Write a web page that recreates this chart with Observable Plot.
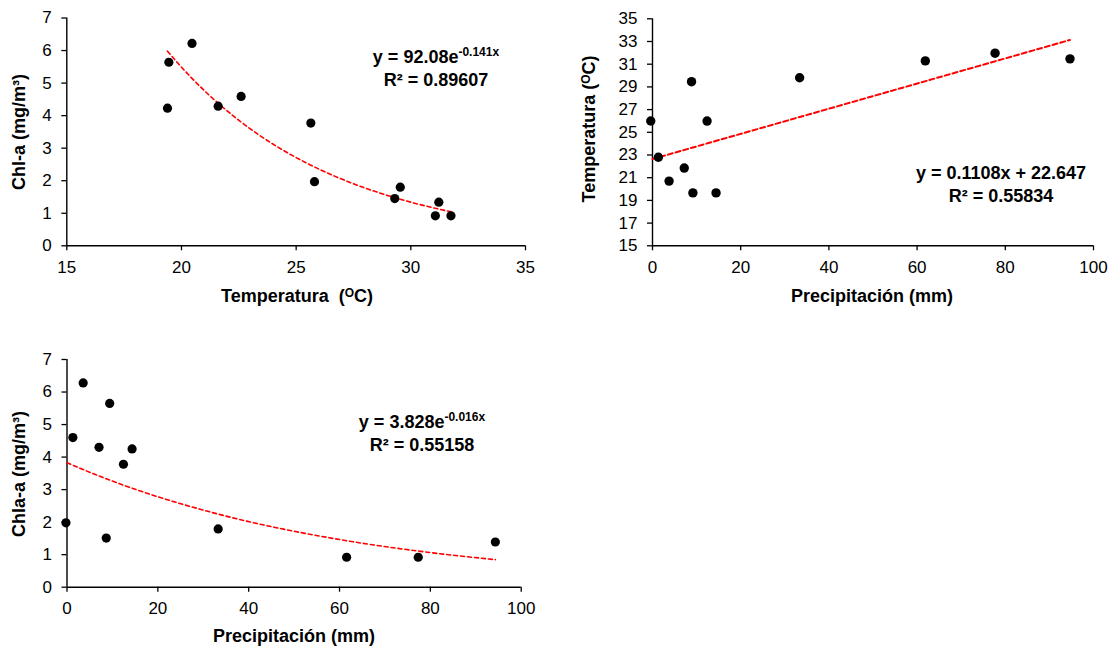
<!DOCTYPE html>
<html>
<head>
<meta charset="utf-8">
<script src="https://cdn.jsdelivr.net/npm/d3@7"></script>
<script src="https://cdn.jsdelivr.net/npm/@observablehq/plot@0.6"></script>
<style>
  html, body { margin:0; padding:0; background:#fff; overflow:hidden; }
  #root { position:relative; width:1114px; height:649px; font-family:"Liberation Sans", Arial, sans-serif; color:#000; }
  .panel { position:absolute; }
  .title { position:absolute; font-weight:bold; font-size:18px; white-space:nowrap; transform:translate(-50%,-50%); }
  .ytitle { transform:translate(-50%,-50%) rotate(-90deg); }
  .eq { position:absolute; font-weight:bold; font-size:18px; line-height:23px; text-align:center; white-space:nowrap; transform:translateX(-50%); }
  .sup { font-size:12px; position:relative; top:-7px; line-height:0; }
  .deg { font-size:12px; position:relative; top:-5px; line-height:0; }
</style>
</head>
<body>
<div id="root"></div>
<script>
// Panel 1: Temperature vs Chl-a
const temp1 = [19.39, 19.45, 20.46, 21.6, 22.6, 25.64, 25.8, 29.3, 29.54, 31.07, 31.22, 31.75];
const chl1  = [4.23, 5.64, 6.22, 4.29, 4.59, 3.77, 1.97, 1.45, 1.8, 0.92, 1.34, 0.92];
const fit1 = [92.08, -0.141];          // y = a e^(b x)

// Panel 2: Precipitation vs Temperature
const precip2 = [-0.4, 1.33, 3.76, 7.2, 8.85, 9.16, 12.37, 14.41, 33.36, 61.86, 77.68, 94.67];
const temp2   = [26.0, 22.8, 20.7, 21.85, 29.46, 19.66, 25.99, 19.66, 29.81, 31.29, 31.97, 31.47];
const fit2 = [0.1108, 22.647];         // y = m x + c

// Panel 3: Precipitation vs Chla-a
const precip3 = [-0.23, 1.29, 3.56, 7.05, 8.64, 9.4, 12.43, 14.33, 33.28, 61.56, 77.33, 94.31];
const chl3    = [1.98, 4.6, 6.28, 4.3, 1.51, 5.65, 3.78, 4.25, 1.79, 0.92, 0.92, 1.39];
const fit3 = [3.828, -0.016];

const ticks1x = [15, 20, 25, 30, 35];
const ticks1y = [0, 1, 2, 3, 4, 5, 6, 7];
const ticks2x = [0, 20, 40, 60, 80, 100];
const ticks2y = [15, 17, 19, 21, 23, 25, 27, 29, 31, 33, 35];
const ticks3x = [0, 20, 40, 60, 80, 100];
const ticks3y = [0, 1, 2, 3, 4, 5, 6, 7];

const root = document.getElementById("root");

function pts(xs, ys) { return xs.map((x, i) => ({x, y: ys[i]})); }

function expTrend(xs, fit) {
  const s = [...xs].sort((a, b) => a - b);
  const lo = Math.max(s[0], 0);
  return [lo, ...s.filter(v => v > lo)].map(x => ({x, y: fit[0] * Math.exp(fit[1] * x)}));
}
function linTrend(xs, fit) {
  const [lo, hi] = d3.extent(xs);
  return [Math.max(lo, 0), hi].map(x => ({x, y: fit[0] * x + fit[1]}));
}

function panel({left, top, width, height, margins, xdom, ydom, xt, yt, data, trend, dash, sw, r}) {
  const chart = Plot.plot({
    width, height,
    marginLeft: margins[0], marginTop: margins[1], marginRight: margins[2], marginBottom: margins[3],
    style: {fontFamily: '"Liberation Sans", Arial, sans-serif', fontSize: "17px", color: "#000", background: "transparent", overflow: "visible"},
    x: {domain: xdom},
    y: {domain: ydom},
    marks: [
      Plot.axisX({ticks: xt, tickFormat: d => String(d), tickSize: 5, tickPadding: 10, strokeWidth: 1.3, label: null, fill: "#000", fontSize: 17}),
      Plot.axisY({ticks: yt, tickFormat: d => String(d), tickSize: 5, tickPadding: 10, strokeWidth: 1.3, label: null, fill: "#000", fontSize: 17}),
      Plot.ruleX([xdom[0]], {stroke: "#000", strokeWidth: 1.4}),
      Plot.ruleY([ydom[0]], {stroke: "#000", strokeWidth: 1.4}),
      Plot.line(trend, {x: "x", y: "y", stroke: "#ff0000", strokeWidth: sw, strokeDasharray: dash, curve: "monotone-x"}),
      Plot.dot(data, {x: "x", y: "y", r, fill: "#000", stroke: "none", clip: false})
    ]
  });
  const div = document.createElement("div");
  div.className = "panel";
  div.style.left = left + "px";
  div.style.top = top + "px";
  div.appendChild(chart);
  root.appendChild(div);
}

panel({left: 0, top: 0, width: 560, height: 320, margins: [66.3, 17.5, 35, 74.7],
  xdom: [15, 35], ydom: [0, 7], xt: ticks1x, yt: ticks1y,
  data: pts(temp1, chl1), trend: expTrend(temp1, fit1), dash: "4,3", sw: 1.6, r: 4.6});

panel({left: 570, top: 0, width: 544, height: 320, margins: [82, 18.3, 21, 74.7],
  xdom: [0, 100], ydom: [15, 35], xt: ticks2x, yt: ticks2y,
  data: pts(precip2, temp2), trend: linTrend(precip2, fit2), dash: "5,3", sw: 2, r: 4.7});

panel({left: 0, top: 340, width: 540, height: 309, margins: [66.5, 19, 19.3, 62.3],
  xdom: [0, 100], ydom: [0, 7], xt: ticks3x, yt: ticks3y,
  data: pts(precip3, chl3), trend: expTrend(precip3, fit3), dash: "4,3", sw: 1.6, r: 4.6});

function addHTML(cls, x, y, html) {
  const d = document.createElement("div");
  d.className = cls;
  d.style.left = x + "px";
  d.style.top = y + "px";
  d.innerHTML = html;
  root.appendChild(d);
}

// axis titles
addHTML("title ytitle", 19, 132, "Chl-a (mg/m³)");
addHTML("title", 297, 296, 'Temperatura&nbsp;&nbsp;(<span class="deg">O</span>C)');
addHTML("title ytitle", 589, 129, 'Temperatura (<span class="deg">O</span>C)');
addHTML("title", 872, 296, "Precipitación (mm)");
addHTML("title ytitle", 19, 474, "Chla-a (mg/m³)");
addHTML("title", 294, 636, "Precipitación (mm)");

// equations
addHTML("eq", 436, 45.5, `y = ${fit1[0].toFixed(2)}e<span class="sup">${fit1[1]}x</span><br>R² = 0.89607`);
addHTML("eq", 1001, 161.5, `y = ${fit2[0]}x + ${fit2[1]}<br>R² = 0.55834`);
addHTML("eq", 422, 410.5, `y = ${fit3[0]}e<span class="sup">${fit3[1]}x</span><br>R² = 0.55158`);
</script>
</body>
</html>
